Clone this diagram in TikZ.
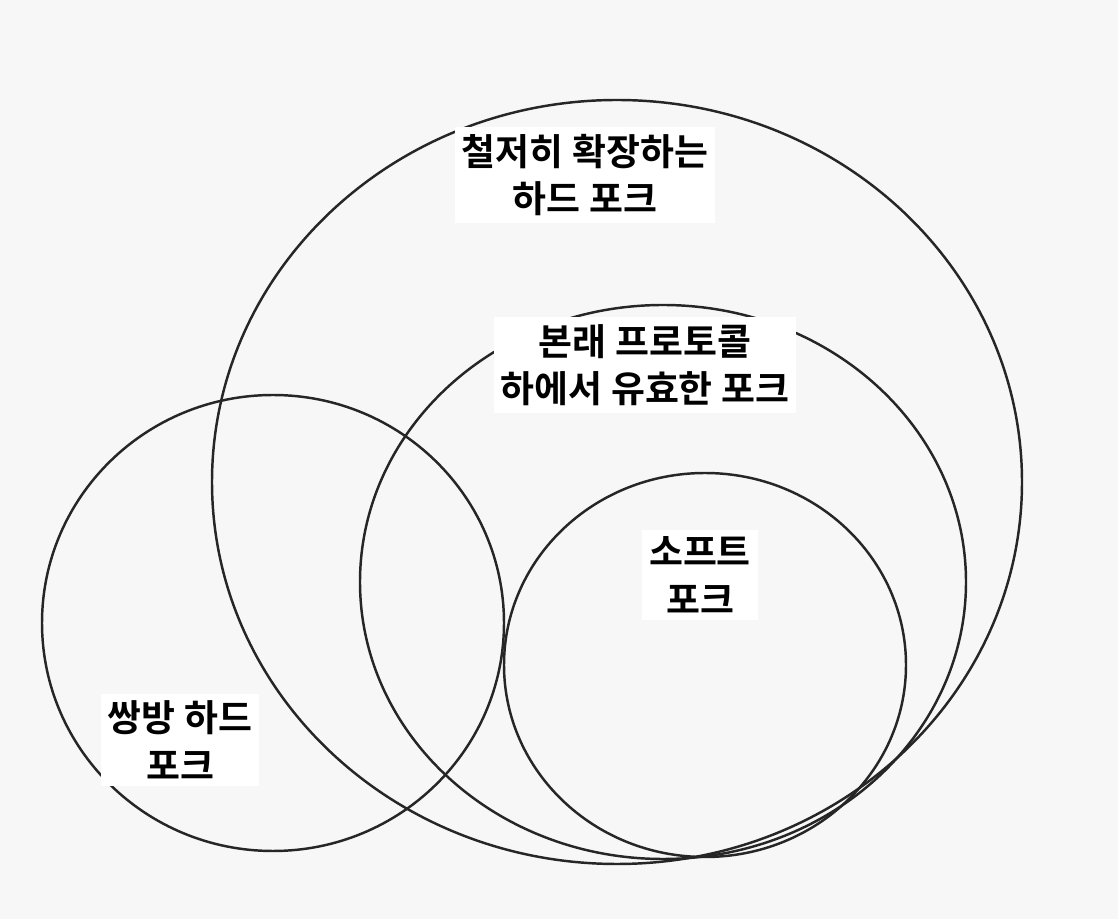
\documentclass[tikz,border=0pt]{standalone}
\usepackage{fontspec}
\newfontfamily\kr{Noto Sans CJK KR}[BoldFont={* Bold}]
\usetikzlibrary{positioning}
\tikzset{
  setring/.style={draw=black!85, line width=1.4pt},
  setlabel/.style={font=\kr\bfseries\fontsize{21}{27}\selectfont, align=center, fill=white, inner sep=4pt}
}
\begin{document}
\begin{tikzpicture}
    % Canvas
    \fill[black!3] (0,0) rectangle (22.36,18.38);
    \useasboundingbox (0,0) rectangle (22.36,18.38);

    % Nested sets
    \draw[setring] (12.34,8.74) ellipse [x radius=8.1cm, y radius=7.64cm];
    \draw[setring] (13.26,6.74) ellipse [x radius=6.06cm, y radius=5.54cm];
    \draw[setring] (14.10,5.08) ellipse [x radius=4.02cm, y radius=3.84cm];
    \draw[setring] (5.46,5.92) ellipse [x radius=4.62cm, y radius=4.56cm];

    % Labels
    \node[setlabel] (strict) at (11.7,14.88) {철저히 확장하는\\하드 포크};
    \node[setlabel] (valid) at (12.9,11.08) {본래 프로토콜\\하에서 유효한 포크};
    \node[setlabel] (soft) at (14.0,6.88) {소프트\\포크};
    \node[setlabel] (bidir) at (3.6,3.58) {쌍방 하드\\포크};
\end{tikzpicture}
\end{document}
